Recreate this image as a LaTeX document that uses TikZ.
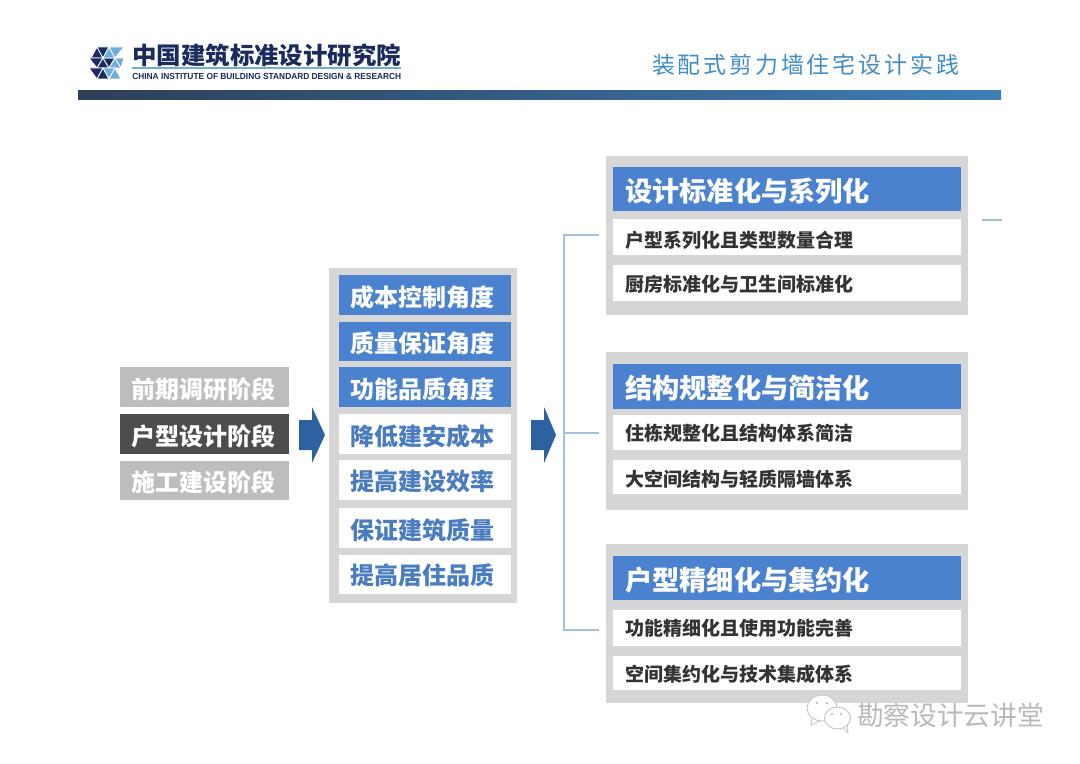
\documentclass[tikz,border=0pt]{standalone}
\usepackage{fontspec}
\usepackage{graphicx}
\setmainfont{Noto Sans CJK SC}
\newfontfamily\titlefont[LetterSpace=12.6]{Noto Sans CJK SC}
\newfontfamily\latinb{Liberation Sans}
\usetikzlibrary{shadings}
\definecolor{panelgrey}{HTML}{D6D6D6}
\definecolor{headblue}{HTML}{4A82D0}
\definecolor{softgrey}{HTML}{BDBDBD}
\definecolor{darkgrey}{HTML}{4D4D4D}
\definecolor{arrowblue}{HTML}{2C629F}
\definecolor{linkblue}{HTML}{A4BEDC}
\definecolor{navy}{HTML}{1B2B5E}
\definecolor{sky}{HTML}{6FAEDC}
\definecolor{bardark}{HTML}{2D3F55}
\definecolor{barblue}{HTML}{3F7DB8}
\definecolor{titleblue}{HTML}{3E8CC8}
\definecolor{textblue}{HTML}{4A7CC0}
\definecolor{rowtext}{HTML}{333333}
\tikzset{
 x=0.75pt,y=-0.75pt,
 stagetext/.style={inner sep=0pt,text=white,font=\fontsize{18pt}{18pt}\selectfont\bfseries},
 midtext/.style={inner sep=0pt,font=\fontsize{18pt}{18pt}\selectfont\bfseries},
 headtext/.style={inner sep=0pt,anchor=west,text=white,font=\fontsize{20.4pt}{20pt}\selectfont\bfseries},
 rowlabel/.style={inner sep=0pt,anchor=west,text=rowtext,font=\fontsize{14.25pt}{14pt}\selectfont\bfseries},
 link/.style={draw=linkblue,line width=1.1pt},
 fatarrow/.style={fill=arrowblue,draw=none},
 navytri/.style={fill=navy,draw=white,line width=0.6pt,line join=round},
 skytri/.style={fill=sky,draw=white,line width=0.6pt,line join=round},
 bubble/.style={fill=white,draw=gray!45,line width=0.7pt},
 tailfill/.style={fill=white,draw=gray!45,line width=0.7pt,line join=round},
}
\newcommand{\rbox}[6]{% name, x0,y0,x1,y1, colour
 \path[fill=#6] (#2,#3) rectangle (#4,#5);
 \coordinate (#1) at ({(#2+#4)/2},{(#3+#5)/2});
}
\begin{document}
\begin{tikzpicture}
\useasboundingbox[fill=white] (0,0) rectangle (1080,763);
% header bar and logo
\shade[left color=bardark,right color=barblue] (78,91) rectangle (1001,100);
% logo: triangular lattice, dark on the left, light on the right
\foreach \ax/\ay/\bx/\by/\cx/\cy in {
 91/58/97/47/103/58, 97/47/109/47/103/58,
 89/58/103/58/97/68, 97/68/103/58/109/68, 103/58/115/58/109/68,
 89/68/103/68/97/79, 97/79/103/68/109/79}
 {\path[navytri] (\ax,\ay)--(\bx,\by)--(\cx,\cy)--cycle;}
\foreach \ax/\ay/\bx/\by/\cx/\cy in {
 103/58/109/47/115/58, 109/47/124/47/115/58,
 109/68/115/58/121/68, 115/58/124/58/121/68,
 103/68/115/68/109/79, 109/79/115/68/121/79}
 {\path[skytri] (\ax,\ay)--(\bx,\by)--(\cx,\cy)--cycle;}
\node[inner sep=0pt,anchor=west,text=navy] (logocn) at (132,55.5)
  {\resizebox{201.75pt}{15.5pt}{\bfseries 中国建筑标准设计研究院}};
\draw[draw=sky,line width=1pt] (132,68) -- (401,68);
\node[inner sep=0pt,anchor=west,text=navy] (logoen) at (132,76)
  {\resizebox{201.75pt}{4.6pt}{\latinb\bfseries CHINA INSTITUTE OF BUILDING STANDARD DESIGN \& RESEARCH}};
\node[inner sep=0pt,anchor=center,text=titleblue,font=\titlefont\fontsize{17.2pt}{19pt}\selectfont] (title) at (805.5,65) {装配式剪力墙住宅设计实践};
% stages
\rbox{s1}{120}{367}{289}{407}{softgrey}
\rbox{s2}{120}{414}{289}{454}{darkgrey}
\rbox{s3}{120}{461}{289}{500}{softgrey}
\node[stagetext] at ([shift={(-1,2)}]s1) {前期调研阶段};
\node[stagetext] at ([shift={(-1,2)}]s2) {户型设计阶段};
\node[stagetext] at ([shift={(-1,2)}]s3) {施工建设阶段};
% arrows
\fill[fatarrow] (299,420)--(312,420)--(312,407)--(325,435)--(312,463)--(312,450)--(299,450)--cycle;
\fill[fatarrow] (531,420)--(544,420)--(544,407)--(556,435)--(544,463)--(544,450)--(531,450)--cycle;
% middle panel
\rbox{mp}{329}{268}{517}{603}{panelgrey}
\rbox{m1}{339}{275}{511}{315}{headblue}
\rbox{m2}{339}{322}{511}{361}{headblue}
\rbox{m3}{339}{367}{511}{407}{headblue}
\rbox{m4}{339}{414}{511}{454}{white}
\rbox{m5}{339}{460}{511}{500}{white}
\rbox{m6}{339}{508}{511}{548}{white}
\rbox{m7}{339}{555}{511}{594}{white}
\node[midtext,text=white] at ([shift={(-3,2)}]m1) {成本控制角度};
\node[midtext,text=white] at ([shift={(-3,2)}]m2) {质量保证角度};
\node[midtext,text=white] at ([shift={(-3,2)}]m3) {功能品质角度};
\node[midtext,text=textblue] at ([shift={(-3,2)}]m4) {降低建安成本};
\node[midtext,text=textblue] at ([shift={(-3,1)}]m5) {提高建设效率};
\node[midtext,text=textblue] at ([shift={(-3,2)}]m6) {保证建筑质量};
\node[midtext,text=textblue] at ([shift={(-3,1)}]m7) {提高居住品质};
% right panels
\rbox{p1}{606}{156}{968}{315}{panelgrey}
\rbox{p2}{606}{352}{968}{510}{panelgrey}
\rbox{p3}{606}{544}{968}{703}{panelgrey}
\rbox{h1}{613}{167}{961}{211}{headblue}
\rbox{h2}{613}{364}{961}{409}{headblue}
\rbox{h3}{613}{556}{961}{600}{headblue}
\rbox{r11}{613}{219}{961}{255}{white}
\rbox{r12}{613}{265}{961}{301}{white}
\rbox{r21}{613}{415}{961}{450}{white}
\rbox{r22}{613}{460}{961}{494}{white}
\rbox{r31}{613}{610}{961}{646}{white}
\rbox{r32}{613}{656}{961}{690}{white}
\node[headtext] at (625,191) {设计标准化与系列化};
\node[headtext] at (625,388) {结构规整化与简洁化};
\node[headtext] at (625,580) {户型精细化与集约化};
\node[rowlabel] at (625,240) {户型系列化且类型数量合理};
\node[rowlabel] at (625,284) {厨房标准化与卫生间标准化};
\node[rowlabel] at (625,433) {住栋规整化且结构体系简洁};
\node[rowlabel] at (625,479) {大空间结构与轻质隔墙体系};
\node[rowlabel] at (625,628) {功能精细化且使用功能完善};
\node[rowlabel] at (625,674) {空间集约化与技术集成体系};
% connectors
\coordinate (ct) at (564,235);
\coordinate (cb) at (564,630);
\coordinate (cm) at (564,433);
\coordinate (t1) at (599,235);
\coordinate (t2) at (599,433);
\coordinate (t3) at (599,630);
\draw[link] (t1) -- (ct) -- (cb) -- (t3);
\draw[link] (cm) -- (t2);
\coordinate (d1) at (982,220);
\coordinate (d2) at (1002,220);
\draw[link] (d1) -- (d2);
% watermark
\path[tailfill] (812,716)--(811,725)--(822,720)--cycle;
\path[bubble] (822,708) ellipse (15 and 13);
\path[tailfill] (842,726)--(848,733)--(847,722)--cycle;
\path[bubble] (837.5,718) ellipse (13 and 11);
\fill[gray!60] (817,703) circle (1.2) (827,703) circle (1.2) (832,714) circle (1.2) (841,714) circle (1.2);
\node[inner sep=0pt,text=gray!55,font=\fontsize{20pt}{20pt}\selectfont] (mark) at (950.5,715) {勘察设计云讲堂};
\end{tikzpicture}
\end{document}
